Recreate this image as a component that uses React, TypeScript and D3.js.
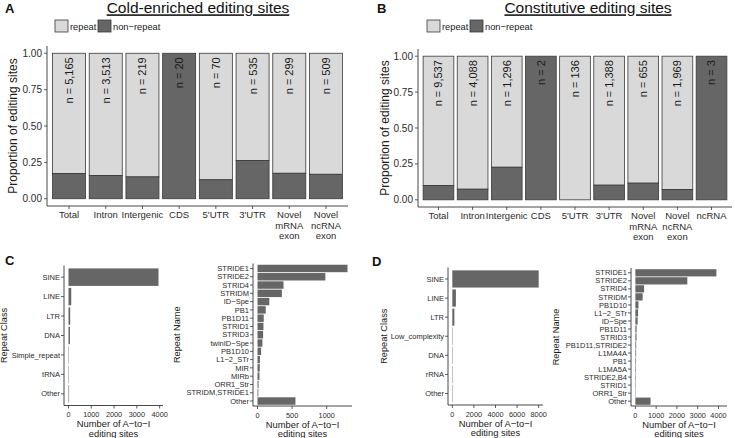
import React from "react";
import * as d3 from "d3";

// ---------- data ----------
const categoriesA = ["Total", "Intron", "Intergenic", "CDS", "5'UTR", "3'UTR", "Novel\nmRNA\nexon", "Novel\nncRNA\nexon"];
const nonRepeatA = [0.173, 0.16, 0.15, 1.0, 0.13, 0.262, 0.175, 0.168];
const countsA = [5165, 3513, 219, 20, 70, 535, 299, 509];

const categoriesB = ["Total", "Intron", "Intergenic", "CDS", "5'UTR", "3'UTR", "Novel\nmRNA\nexon", "Novel\nncRNA\nexon", "ncRNA"];
const nonRepeatB = [0.1, 0.074, 0.227, 1.0, 0.0, 0.102, 0.116, 0.072, 1.0];
const countsB = [9537, 4088, 1296, 2, 136, 1388, 655, 1969, 3];

const classesC = ["SINE", "LINE", "LTR", "DNA", "Simple_repeat", "tRNA", "Other"];
const classCountsC = [3950, 120, 75, 65, 10, 8, 25];
const namesC = ["STRIDE1", "STRIDE2", "STRID4", "STRIDM", "ID\u2212Spe", "PB1", "PB1D11", "STRID1", "STRID3", "twinID\u2212Spe", "PB1D10", "L1\u22122_STr", "MIR", "MIRb", "ORR1_Str", "STRIDM,STRIDE1", "Other"];
const nameCountsC = [1300, 980, 376, 352, 171, 119, 90, 86, 81, 71, 52, 35, 33, 28, 15, 12, 548];

const classesD = ["SINE", "LINE", "LTR", "Low_complexity", "DNA", "rRNA", "Other"];
const classCountsD = [8000, 330, 190, 12, 10, 6, 15];
const namesD = ["STRIDE1", "STRIDE2", "STRID4", "STRIDM", "PB1D10", "L1\u22122_STr", "ID\u2212Spe", "PB1D11", "STRID3", "PB1D11,STRIDE2", "L1MA4A", "PB1", "L1MA5A", "STRIDE2,B4", "STRID1", "ORR1_Str", "Other"];
const nameCountsD = [3900, 2500, 420, 350, 150, 130, 110, 60, 55, 40, 35, 30, 28, 25, 22, 18, 730];

const propTicks = [0, 0.25, 0.5, 0.75, 1.0];
const ticksCClass = [0, 1000, 2000, 3000, 4000];
const ticksCName = [0, 500, 1000];
const ticksDClass = [0, 2000, 4000, 6000, 8000];
const ticksDName = [0, 1000, 2000, 3000, 4000];

// ---------- style ----------
const FONT = "'Liberation Sans', Arial, Helvetica, sans-serif";
const LIGHT = "#d9d9d9";
const DARK = "#666666";
const OUTLINE = "#3a3a3a";
const AXIS = "#333333";
const TEXT = "#1a1a1a";
const TICKTXT = "#2b2b2b";

type StackProps = {
  cats: string[];
  nonRepeat: number[];
  counts: number[];
  x0: number;
  x1: number;
  yTop: number;
  yBottom: number;
  yTitleX: number;
};

function StackedPanel({ cats, nonRepeat, counts, x0, x1, yTop, yBottom, yTitleX }: StackProps) {
  const x = d3.scaleBand<string>().domain(cats).range([x0, x1]).paddingInner(0.1).paddingOuter(0.15);
  const y = d3.scaleLinear().domain([-0.05, 1.05]).range([yBottom, yTop]);
  const fmtTick = d3.format(".2f");
  const fmtN = d3.format(",");
  const bw = x.bandwidth();
  return (
    <g>
      {cats.map((c, i) => {
        const bx = x(c)!;
        const nr = nonRepeat[i];
        return (
          <g key={c}>
            {nr < 1 && (
              <rect x={bx} y={y(1)} width={bw} height={y(nr) - y(1)} fill={LIGHT} stroke={OUTLINE} strokeWidth={0.8} />
            )}
            {nr > 0 && (
              <rect x={bx} y={y(nr)} width={bw} height={y(0) - y(nr)} fill={DARK} stroke={OUTLINE} strokeWidth={0.8} />
            )}
            <text
              transform={`translate(${bx + bw / 2},${y(1) + 4}) rotate(-90)`}
              textAnchor="end"
              dy="0.36em"
              fontSize={11}
              fill={TEXT}
            >
              {`n = ${fmtN(counts[i])}`}
            </text>
          </g>
        );
      })}
      {/* y axis */}
      <line x1={x0} x2={x0} y1={yTop} y2={yBottom} stroke={AXIS} strokeWidth={0.9} />
      {propTicks.map((t) => (
        <g key={t}>
          <line x1={x0 - 3} x2={x0} y1={y(t)} y2={y(t)} stroke={AXIS} strokeWidth={0.8} />
          <text x={x0 - 5} y={y(t)} dy="0.35em" textAnchor="end" fontSize={10} fill={TICKTXT}>
            {fmtTick(t)}
          </text>
        </g>
      ))}
      {/* x axis */}
      <line x1={x0} x2={x1} y1={yBottom} y2={yBottom} stroke={AXIS} strokeWidth={0.9} />
      {cats.map((c) => {
        const cx = x(c)! + bw / 2;
        const lines = c.split("\n");
        return (
          <g key={"xl" + c}>
            <line x1={cx} x2={cx} y1={yBottom} y2={yBottom + 3} stroke={AXIS} strokeWidth={0.8} />
            <text x={cx} y={yBottom + 12} textAnchor="middle" fontSize={9.5} fill={TICKTXT}>
              {lines.map((l, k) => (
                <tspan key={k} x={cx} dy={k === 0 ? 0 : 10.5}>
                  {l}
                </tspan>
              ))}
            </text>
          </g>
        );
      })}
      <text
        transform={`translate(${yTitleX},${(yTop + yBottom) / 2}) rotate(-90)`}
        textAnchor="middle"
        dy="0.35em"
        fontSize={12}
        fill={TEXT}
      >
        Proportion of editing sites
      </text>
    </g>
  );
}

type HBarProps = {
  names: string[];
  values: number[];
  xMax: number;
  ticks: number[];
  x0: number;
  x1: number;
  yTop: number;
  yBottom: number;
  title: string;
  titleX: number;
};

function HBarPanel({ names, values, xMax, ticks, x0, x1, yTop, yBottom, title, titleX }: HBarProps) {
  const y = d3.scaleBand<string>().domain(names).range([yTop, yBottom]).paddingInner(0.1).paddingOuter(0.15);
  const x = d3.scaleLinear().domain([-0.05 * xMax, 1.05 * xMax]).range([x0, x1]);
  const bh = y.bandwidth();
  const midX = (x0 + x1) / 2;
  return (
    <g>
      {names.map((n, i) => (
        <rect key={n} x={x(0)} y={y(n)!} width={Math.max(0.4, x(values[i]) - x(0))} height={bh} fill={DARK} />
      ))}
      <line x1={x0} x2={x0} y1={yTop} y2={yBottom} stroke={AXIS} strokeWidth={0.9} />
      {names.map((n) => (
        <g key={"yl" + n}>
          <line x1={x0 - 3} x2={x0} y1={y(n)! + bh / 2} y2={y(n)! + bh / 2} stroke={AXIS} strokeWidth={0.8} />
          <text x={x0 - 4} y={y(n)! + bh / 2} dy="0.35em" textAnchor="end" fontSize={7.5} fill={TICKTXT}>
            {n}
          </text>
        </g>
      ))}
      <line x1={x0} x2={x1} y1={yBottom} y2={yBottom} stroke={AXIS} strokeWidth={0.9} />
      {ticks.map((t) => (
        <g key={"xt" + t}>
          <line x1={x(t)} x2={x(t)} y1={yBottom} y2={yBottom + 3} stroke={AXIS} strokeWidth={0.8} />
          <text x={x(t)} y={yBottom + 11.5} textAnchor="middle" fontSize={7.3} fill={TICKTXT}>
            {t}
          </text>
        </g>
      ))}
      <text x={midX} y={yBottom + 21.5} textAnchor="middle" fontSize={9.4} fill={TEXT}>
        Number of A{"\u2212"}to{"\u2212"}I
      </text>
      <text x={midX} y={yBottom + 31} textAnchor="middle" fontSize={9.4} fill={TEXT}>
        editing sites
      </text>
      <text
        transform={`translate(${titleX},${(yTop + yBottom) / 2}) rotate(-90)`}
        textAnchor="middle"
        dy="0.35em"
        fontSize={9.2}
        fill={TEXT}
      >
        {title}
      </text>
    </g>
  );
}

function Legend({ x }: { x: number }) {
  return (
    <g fontSize={9.3} fill={TEXT}>
      <rect x={x} y={20} width={13} height={12} fill={LIGHT} stroke={OUTLINE} strokeWidth={0.8} />
      <text x={x + 15} y={29.5}>repeat</text>
      <rect x={x + 43} y={20} width={13} height={12} fill={DARK} stroke={OUTLINE} strokeWidth={0.8} />
      <text x={x + 58} y={29.5}>non{"\u2212"}repeat</text>
    </g>
  );
}

export default function App() {
  return (
    <svg
      width={735}
      height={438}
      viewBox="0 0 735 438"
      style={{ position: "absolute", left: 0, top: 0, display: "block", background: "#fff" }}
      fontFamily={FONT}
    >
      <rect x={0} y={0} width={735} height={438} fill="#fff" />
      {/* Panel letters */}
      <text x={5} y={13} fontSize={13} fontWeight="bold" fill="#111">A</text>
      <text x={377} y={13} fontSize={13} fontWeight="bold" fill="#111">B</text>
      <text x={5} y={265} fontSize={13} fontWeight="bold" fill="#111">C</text>
      <text x={372} y={265.5} fontSize={13} fontWeight="bold" fill="#111">D</text>

      {/* Titles */}
      <text x={198} y={13.3} textAnchor="middle" fontSize={15.5} fill="#111" textDecoration="underline">
        Cold-enriched editing sites
      </text>
      <text x={588} y={13.3} textAnchor="middle" fontSize={15.5} fill="#111" textDecoration="underline">
        Constitutive editing sites
      </text>

      <Legend x={55} />
      <Legend x={427} />

      <StackedPanel cats={categoriesA} nonRepeat={nonRepeatA} counts={countsA} x0={47} x1={348} yTop={46} yBottom={206} yTitleX={13} />
      <StackedPanel cats={categoriesB} nonRepeat={nonRepeatB} counts={countsB} x0={418} x1={732} yTop={49} yBottom={207} yTitleX={385} />

      <HBarPanel names={classesC} values={classCountsC} xMax={3950} ticks={ticksCClass} x0={64} x1={163} yTop={265.5} yBottom={405.5} title="Repeat Class" titleX={4} />
      <HBarPanel names={namesC} values={nameCountsC} xMax={1300} ticks={ticksCName} x0={253} x1={352} yTop={263.5} yBottom={406} title="Repeat Name" titleX={177} />
      <HBarPanel names={classesD} values={classCountsD} xMax={8000} ticks={ticksDClass} x0={448} x1={543} yTop={267.5} yBottom={405} title="Repeat Class" titleX={384} />
      <HBarPanel names={namesD} values={nameCountsD} xMax={4200} ticks={ticksDName} x0={631} x1={727} yTop={268} yBottom={406} title="Repeat Name" titleX={556} />
    </svg>
  );
}
